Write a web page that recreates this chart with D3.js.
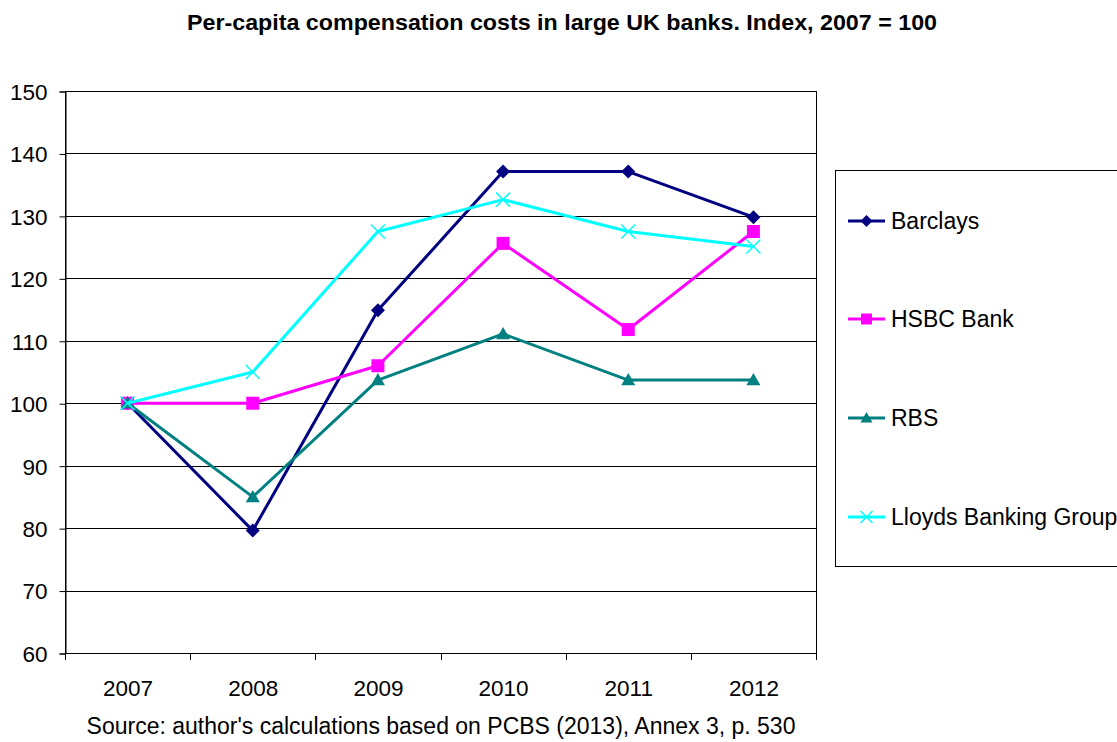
<!DOCTYPE html>
<html><head><meta charset="utf-8">
<script src="https://cdn.jsdelivr.net/npm/d3@7"></script>
<style>body{margin:0;background:#fff;} svg{display:block;font-family:"Liberation Sans",Arial,sans-serif;}</style>
</head><body>
<svg id="chart" width="1117" height="742"></svg>
<script>
const years = ["2007","2008","2009","2010","2011","2012"];
const barclays = [100, 79.6, 114.9, 137.1, 137.1, 129.8];
const hsbc = [100, 100, 106, 125.6, 111.8, 127.5];
const rbs = [100, 85.0, 103.7, 111.1, 103.7, 103.7];
const lloyds = [100, 105, 127.5, 132.6, 127.5, 125.1];
const seriesNames = ["Barclays","HSBC Bank","RBS","Lloyds Banking Group"];
const yTicks = [60,70,80,90,100,110,120,130,140,150];

const series = [
  {name: seriesNames[0], values: barclays, color: "#000080", marker: "diamond"},
  {name: seriesNames[1], values: hsbc, color: "#FF00FF", marker: "square"},
  {name: seriesNames[2], values: rbs, color: "#008080", marker: "triangle"},
  {name: seriesNames[3], values: lloyds, color: "#00FFFF", marker: "x"}
];

const FS = 22.5;
const svg = d3.select("#chart");
const L = 65, R = 816, T = 91, B = 653;
const x = d3.scaleBand().domain(years).range([L, R]);
const y = d3.scaleLinear().domain([60,150]).range([B, T]);

svg.append("text").attr("x", 562).attr("y", 30).attr("text-anchor","middle")
  .attr("font-weight","bold").attr("font-size", 22).attr("textLength", 750).attr("lengthAdjust","spacingAndGlyphs")
  .text("Per-capita compensation costs in large UK banks. Index, 2007 = 100");

// gridlines
svg.append("g").selectAll("line").data(yTicks).join("line")
  .attr("x1", L).attr("x2", R).attr("y1", d=>Math.round(y(d))+0.5).attr("y2", d=>Math.round(y(d))+0.5)
  .attr("stroke","#000").attr("stroke-width",1);
svg.append("rect").attr("x", L+0.5).attr("y", Math.round(T)+0.5).attr("width", R-L).attr("height", Math.round(B)-Math.round(T))
  .attr("fill","none").attr("stroke","#000");

// y axis
const ya = svg.append("g").attr("transform", `translate(${L+0.5},0.5)`)
  .call(d3.axisLeft(y).tickValues(yTicks).tickSize(6).tickPadding(12));
ya.select(".domain").attr("stroke","#000");
ya.selectAll("text").attr("font-size", FS).attr("fill","#000").attr("font-family","Liberation Sans, Arial, sans-serif").attr("dy","0.35em");

// x axis
const xa = svg.append("g").attr("transform", `translate(0.5,${Math.round(B)+0.5})`)
  .call(d3.axisBottom(x).tickSize(0).tickPadding(27));
xa.select(".domain").remove();
xa.selectAll("text").attr("font-size", FS).attr("fill","#000").attr("font-family","Liberation Sans, Arial, sans-serif");
const bounds = years.map(d=>x(d)).concat([R]);
svg.append("g").selectAll("line").data(bounds).join("line")
  .attr("x1", d=>Math.round(d)+0.5).attr("x2", d=>Math.round(d)+0.5)
  .attr("y1", Math.round(B)).attr("y2", Math.round(B)+7).attr("stroke","#000");

const cx = d => x(d) + x.bandwidth()/2;
const line = d3.line().x((v,i)=>cx(years[i])).y(v=>y(v));

function drawMarker(g, type, color, px, py, s) {
  if (type === "diamond") {
    g.append("path").attr("d", `M${px},${py-s}L${px+s},${py}L${px},${py+s}L${px-s},${py}Z`).attr("fill", color);
  } else if (type === "square") {
    g.append("rect").attr("x", px-s+0.5).attr("y", py-s+0.5).attr("width", 2*s-1).attr("height", 2*s-1).attr("fill", color);
  } else if (type === "triangle") {
    g.append("path").attr("d", `M${px},${py-s}L${px+s},${py+s*0.75}L${px-s},${py+s*0.75}Z`).attr("fill", color);
  } else {
    g.append("path").attr("d", `M${px-s},${py-s}L${px+s},${py+s}M${px+s},${py-s}L${px-s},${py+s}`).attr("stroke", color).attr("stroke-width", 1.5);
  }
}

series.forEach(s => {
  const g = svg.append("g");
  g.append("path").attr("d", line(s.values)).attr("fill","none").attr("stroke", s.color).attr("stroke-width", 3).attr("stroke-linejoin","round");
  s.values.forEach((v,i) => drawMarker(g, s.marker, s.color, cx(years[i]), y(v), 7));
});

// legend
svg.append("rect").attr("x", 835.5).attr("y", 170.5).attr("width", 300).attr("height", 396).attr("fill","none").attr("stroke","#000");
const legY = [221, 319, 418, 517];
series.forEach((s,i) => {
  const g = svg.append("g");
  g.append("line").attr("x1", 848).attr("x2", 885).attr("y1", legY[i]).attr("y2", legY[i]).attr("stroke", s.color).attr("stroke-width", 3);
  drawMarker(g, s.marker, s.color, 866.5, legY[i], 6);
  g.append("text").attr("x", 891).attr("y", legY[i]).attr("dy","0.35em").attr("font-size", 23).text(s.name);
});

svg.append("text").attr("x", 441).attr("y", 734).attr("text-anchor","middle").attr("font-size", 23)
  .text("Source: author's calculations based on PCBS (2013), Annex 3, p. 530");
</script>
</body></html>
